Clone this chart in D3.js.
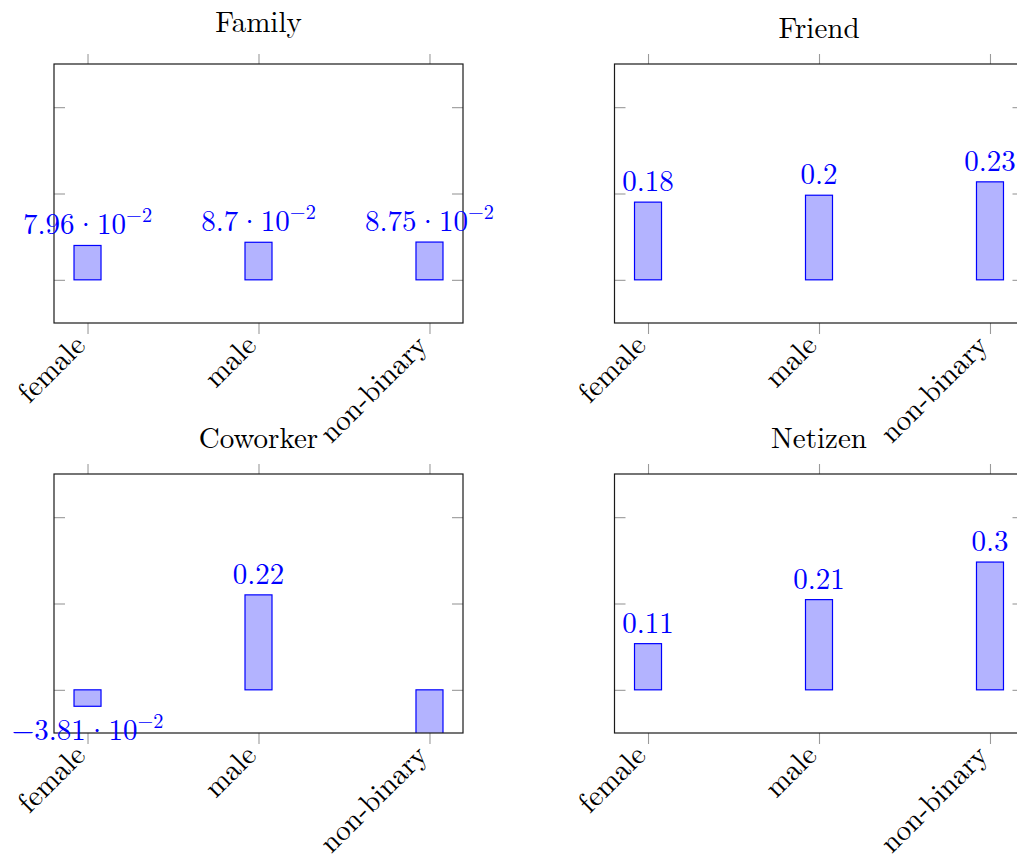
<!DOCTYPE html>
<html>
<head>
<meta charset="utf-8">
<script src="https://cdn.jsdelivr.net/npm/d3@7"></script>
<style>
  body { margin: 0; background: #fff; }
  svg { display: block; }
</style>
</head>
<body>
<svg id="chart" width="1017" height="854"></svg>
<script>
// Categories shared by every panel
const categories = ["female", "male", "non-binary"];

// One value per category, per relationship panel
const panelTitles = ["Family", "Friend", "Coworker", "Netizen"];
const familyValues = [0.0796, 0.087, 0.0875];
const friendValues = [0.18, 0.196, 0.227];
const coworkerValues = [-0.0381, 0.22, -0.13];
const netizenValues = [0.107, 0.209, 0.296];

// Value axis
const yDomain = [-0.1, 0.5];
const yTickValues = [0, 0.2, 0.4];

const seriesByPanel = [familyValues, friendValues, coworkerValues, netizenValues];

// Layout
const W = 1017, H = 854;
const panelW = 409, panelH = 259;
const colX = [54, 614.5];
const rowY = [64, 474];
const barW = 27;
const fontSize = 29;
const blue = "#0000ff";
const barFill = "#b3b3ff";
const tickColor = "#9a9a9a";
const font = "'Latin Modern Roman', 'CMU Serif', 'Liberation Serif', Tinos, 'Noto Serif', 'Nimbus Roman', FreeSerif, 'Times New Roman', serif";

const svg = d3.select("#chart").attr("width", W).attr("height", H);

// Label pieces in the style of \pgfmathprintnumber: fixed for |v| >= 0.1, otherwise sci
function labelParts(v) {
  const a = Math.abs(v);
  if (a >= 0.1 || a === 0) {
    const s = (+v.toFixed(2)).toString();
    return { mant: s.replace("-", "\u2212"), exp: null };
  }
  const e = Math.floor(Math.log10(a));
  const m = +(v / Math.pow(10, e)).toFixed(2);
  return { mant: m.toString().replace("-", "\u2212"), exp: (e < 0 ? "\u2212" : "") + Math.abs(e) };
}

seriesByPanel.forEach((values, i) => {
  const left = colX[i % 2], top = rowY[Math.floor(i / 2)];
  const g = svg.append("g").attr("transform", `translate(${left},${top})`);

  const x = d3.scalePoint().domain(categories).range([0, panelW]).padding(0.196);
  const y = d3.scaleLinear().domain(yDomain).range([panelH, 0]);

  // clip region for the bars
  const clipId = "clip" + i;
  g.append("clipPath").attr("id", clipId)
    .append("rect").attr("width", panelW).attr("height", panelH);

  // bars
  g.append("g").attr("clip-path", `url(#${clipId})`)
    .selectAll("rect").data(values).join("rect")
    .attr("x", (d, j) => x(categories[j]) - barW / 2)
    .attr("width", barW)
    .attr("y", d => y(Math.max(0, d)))
    .attr("height", d => Math.abs(y(d) - y(0)))
    .attr("fill", barFill)
    .attr("stroke", blue)
    .attr("stroke-width", 1.2);

  // axes: x ticks outward on top/bottom, y ticks inward on left/right
  const xBottom = g.append("g").attr("transform", `translate(0,${panelH})`)
    .call(d3.axisBottom(x).tickSize(11).tickPadding(0));
  const xTop = g.append("g").call(d3.axisTop(x).tickSize(10).tickFormat(""));
  const yLeft = g.append("g").call(d3.axisLeft(y).tickValues(yTickValues).tickSize(-11).tickFormat(""));
  const yRight = g.append("g").attr("transform", `translate(${panelW},0)`)
    .call(d3.axisRight(y).tickValues(yTickValues).tickSize(-11).tickFormat(""));
  [xBottom, xTop, yLeft, yRight].forEach(a => {
    a.select(".domain").remove();
    a.selectAll(".tick line").attr("stroke", tickColor).attr("stroke-width", 1.1);
  });

  // rotated category labels
  xBottom.attr("font-family", null);
  xBottom.selectAll(".tick text")
    .attr("x", null).attr("y", null).attr("dy", null)
    .attr("transform", "translate(-10,15) rotate(-45)")
    .attr("text-anchor", "end")
    .attr("dominant-baseline", "central")
    .style("font-family", font)
    .attr("font-size", fontSize)
    .attr("fill", "#000");

  // frame
  g.append("rect").attr("width", panelW).attr("height", panelH)
    .attr("fill", "none").attr("stroke", "#1a1a1a").attr("stroke-width", 1.2);

  // value labels near each bar
  values.forEach((v, j) => {
    if (v < yDomain[0] || v > yDomain[1]) return;
    const p = labelParts(v);
    const baseY = v >= 0 ? y(v) - 11 : y(v) + (p.exp ? 34 : 30);
    const t = g.append("text")
      .attr("x", x(categories[j]))
      .attr("y", baseY)
      .attr("text-anchor", "middle")
      .style("font-family", font)
      .attr("font-size", fontSize)
      .attr("fill", blue);
    t.append("tspan").text(p.mant);
    if (p.exp) {
      t.append("tspan").text("\u00b7");
      t.append("tspan").text("10");
      t.append("tspan").attr("dy", -12).attr("font-size", fontSize * 0.7).text(p.exp);
    }
  });

  // panel title
  const title = panelTitles[i];
  const hasDescender = /[gjpqy]/.test(title);
  g.append("text")
    .attr("x", panelW / 2)
    .attr("y", hasDescender ? -32 : -26)
    .attr("text-anchor", "middle")
    .style("font-family", font)
    .attr("font-size", fontSize)
    .attr("fill", "#000")
    .text(title);
});
</script>
</body>
</html>
